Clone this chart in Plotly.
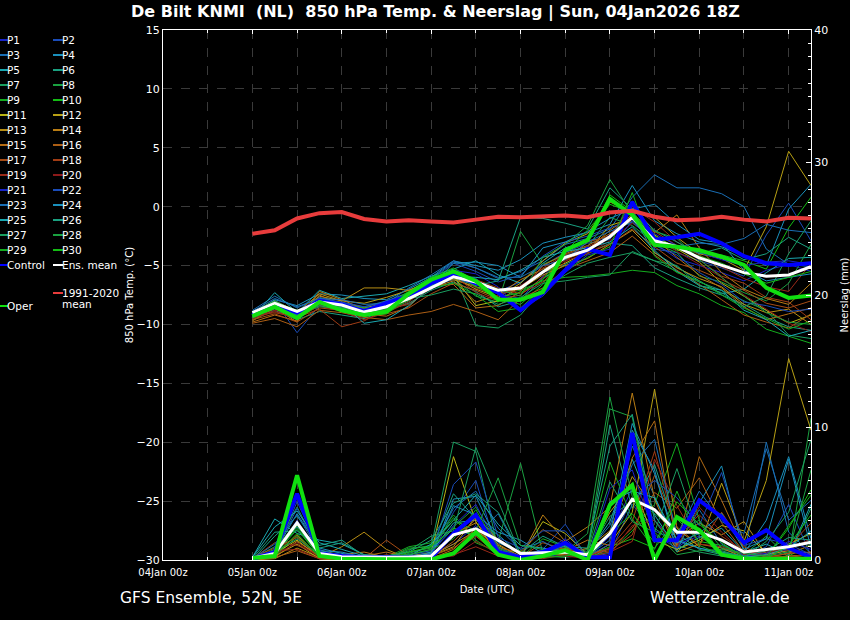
import pandas as pd
import plotly.graph_objects as go

# 6-hourly steps, run 04Jan2026 18Z
times = pd.date_range("2026-01-05 00:00", periods=26, freq="6h")
day_ticks = pd.date_range("2026-01-04", periods=8, freq="D")
day_labels = [d.strftime("%dJan 00z") for d in day_ticks]

clim_temp = [-2.3, -2.0, -1.0, -0.55, -0.45, -1.05, -1.25, -1.15, -1.25, -1.35, -1.1, -0.85, -0.9,
             -0.8, -0.75, -0.9, -0.5, -0.35, -0.85, -1.15, -1.1, -0.85, -1.1, -1.25, -0.95, -1.0]
mean_temp = [-9.0, -8.2, -8.9, -8.1, -8.35, -8.95, -8.5, -7.8, -6.9, -5.95, -6.4, -7.1, -6.9,
             -5.55, -4.3, -3.7, -2.55, -0.9, -2.9, -3.4, -4.35, -4.95, -5.6, -5.9, -5.8, -5.1]
ctrl_temp = [-9.2, -8.3, -9.0, -8.0, -8.3, -8.9, -8.2, -7.6, -6.5, -5.8, -6.5, -7.3, -8.8,
             -7.3, -5.4, -3.6, -4.1, 0.4, -2.8, -2.6, -2.3, -3.1, -4.2, -4.8, -4.95, -4.8]
oper_temp = [-9.3, -8.5, -9.45, -8.1, -8.8, -9.2, -8.9, -7.4, -6.2, -5.5, -6.3, -7.9, -7.9,
             -7.25, -3.7, -2.85, 0.65, -0.7, -3.25, -3.4, -3.7, -4.25, -4.95, -6.9, -7.75, -7.55]

mean_prcp = [0.15, 0.5, 2.8, 0.5, 0.25, 0.2, 0.2, 0.2, 0.3, 1.9, 2.35, 1.5, 0.5,
             0.55, 0.6, 0.4, 2.0, 4.6, 3.8, 2.1, 2.1, 1.5, 0.6, 0.8, 1.0, 1.35]
ctrl_prcp = [0.1, 0.6, 5.0, 0.5, 0.3, 0.2, 0.2, 0.2, 0.15, 2.0, 3.4, 0.6, 0.2,
             0.6, 1.3, 0.2, 0.2, 9.6, 1.5, 1.5, 4.5, 3.25, 1.3, 2.25, 0.9, 0.2]
oper_prcp = [0.15, 0.3, 6.4, 0.3, 0.1, 0.05, 0.05, 0.05, 0.05, 0.5, 2.1, 0.4, 0.0,
             0.3, 0.75, 0.0, 4.15, 5.65, 0.0, 3.25, 2.25, 0.4, 0.1, 0.1, 0.1, 0.1]

# P1..P30, 850 hPa temperature (degC)
member_temp = [
    [-9.3, -8.6, -9.4, -8.3, -8.6, -9.0, -8.7, -7.9, -6.8, -5.7, -6.1, -7.4, -7.8, -5.9, -4.2, -3.6, -2.4, -0.3, -3.1, -4.4, -5.0, -5.6, -6.3, -5.4, -4.9, -5.5],
    [-9.0, -8.0, -10.7, -8.4, -8.1, -8.8, -8.0, -7.5, -6.7, -6.2, -6.6, -7.2, -6.4, -5.0, -3.9, -3.1, -2.8, 0.5, -3.6, -3.9, -4.6, -5.2, -5.9, -2.4, 0.3, -2.9],
    [-8.8, -7.6, -8.6, -7.7, -8.2, -8.5, -8.0, -7.3, -6.1, -4.7, -5.2, -6.1, -5.5, -4.6, -3.2, -2.7, -1.9, 0.8, 2.7, 1.6, 1.6, 1.1, 0.0, -3.6, -4.9, -5.1],
    [-9.1, -7.9, -8.4, -7.4, -7.5, -7.8, -7.9, -7.0, -6.0, -4.6, -5.0, -5.4, -4.5, -3.1, -2.6, -2.2, -1.5, 1.8, -1.2, -2.3, -3.0, -3.4, -4.2, -5.0, -0.2, 1.9],
    [-9.4, -7.3, -9.0, -7.1, -7.8, -7.6, -7.4, -6.7, -5.9, -5.3, -4.6, -5.8, -6.5, -4.8, -3.5, -2.9, -2.6, -0.8, -3.9, -5.1, -6.3, -7.4, -7.0, -5.6, -4.4, -4.3],
    [-9.6, -8.8, -9.6, -8.9, -9.2, -9.5, -8.8, -8.2, -7.1, -6.4, -7.2, -8.5, -8.0, -6.1, -4.9, -4.0, -3.1, -3.3, -5.2, -6.1, -6.9, -7.5, -8.3, -9.4, -10.2, -10.5],
    [-9.2, -8.3, -9.2, -8.5, -8.7, -9.1, -8.5, -7.7, -6.2, -5.6, -10.1, -10.3, -9.2, -7.0, -5.8, -4.8, -4.3, -3.9, -4.6, -5.5, -6.4, -7.1, -8.0, -8.8, -10.9, -11.2],
    [-9.5, -8.7, -9.3, -8.0, -8.9, -9.3, -8.9, -8.0, -6.6, -6.1, -7.6, -8.1, -2.1, -4.9, -4.1, -3.4, -0.9, -1.6, -3.1, -3.9, -5.9, -6.4, -7.3, -8.0, -6.5, -3.2],
    [-9.3, -8.4, -9.1, -8.2, -8.6, -8.9, -8.6, -7.6, -6.4, -5.5, -6.5, -7.4, -7.1, -6.3, -6.0, -5.9, -5.7, -5.4, -5.6, -6.7, -7.4, -8.4, -9.0, -10.4, -11.0, -11.6],
    [-9.1, -8.1, -8.8, -8.0, -8.5, -9.0, -8.3, -7.2, -6.0, -5.2, -6.3, -7.8, -8.3, -6.6, -3.6, -2.7, 1.0, -0.4, -2.9, -3.7, -3.9, -4.1, -4.6, -5.3, -1.8, 0.8],
    [-9.0, -8.0, -8.9, -7.9, -8.3, -8.6, -8.2, -7.4, -6.6, -5.9, -8.4, -8.0, -6.8, -5.6, -4.8, -3.8, -1.6, -1.0, -2.4, -3.6, -4.7, -6.5, -7.6, -8.8, -9.9, -9.2],
    [-9.4, -8.2, -9.1, -7.6, -8.0, -8.2, -7.7, -7.1, -6.3, -6.0, -7.0, -7.7, -6.5, -4.6, -3.1, -2.3, 0.4, -0.5, -0.9, -2.6, -4.0, -4.4, -5.4, -1.7, 4.7, 1.8],
    [-9.2, -8.1, -9.0, -7.4, -8.0, -6.9, -6.9, -7.1, -6.4, -6.2, -6.8, -7.3, -7.0, -5.8, -5.0, -4.4, -3.2, -2.0, -3.9, -5.2, -6.1, -6.8, -8.3, -9.0, -8.7, -10.0],
    [-9.7, -8.6, -9.8, -7.2, -7.9, -8.7, -8.4, -7.8, -6.9, -6.3, -8.1, -7.5, -6.2, -5.3, -4.5, -3.7, -2.0, -0.7, -2.2, -0.7, -3.5, -5.6, -7.0, -7.8, -8.3, -6.5],
    [-9.8, -9.2, -9.7, -7.5, -8.4, -9.1, -9.3, -8.5, -6.7, -6.6, -8.6, -8.4, -7.2, -5.0, -4.0, -3.3, -2.3, -1.2, -2.7, -4.3, -5.8, -6.9, -8.5, -9.6, -9.1, -8.6],
    [-9.9, -9.5, -10.2, -8.8, -9.0, -9.4, -9.6, -9.2, -8.9, -8.3, -8.9, -9.6, -7.8, -6.9, -5.3, -4.6, -3.9, -2.5, -4.1, -5.4, -6.6, -7.9, -9.2, -9.8, -10.3, -9.1],
    [-9.6, -9.1, -9.8, -8.6, -8.8, -9.3, -9.1, -8.6, -7.4, -6.5, -7.1, -7.9, -7.5, -6.0, -4.4, -3.9, -3.2, -1.9, -3.4, -4.8, -5.4, -6.2, -7.1, -8.2, -8.6, -8.0],
    [-9.3, -9.0, -9.4, -8.7, -10.2, -9.7, -8.7, -8.3, -6.9, -6.0, -6.2, -6.9, -7.4, -6.4, -4.7, -3.0, -2.5, 0.1, -2.1, -3.3, -4.5, -5.9, -6.5, -7.7, -8.1, -9.6],
    [-9.5, -8.9, -9.5, -8.4, -8.9, -9.6, -9.0, -8.1, -6.5, -5.8, -7.3, -8.0, -6.9, -5.2, -4.1, -3.4, -2.6, -0.1, -1.3, -3.0, -4.1, -5.1, -6.1, -6.8, -7.2, -4.8],
    [-9.4, -8.8, -9.2, -8.3, -8.7, -9.2, -8.9, -7.9, -6.3, -5.6, -6.9, -7.6, -6.7, -5.5, -4.6, -4.0, -2.9, -1.4, -2.6, -3.8, -4.9, -6.0, -7.5, -8.7, -9.9, -10.6],
    [-9.2, -8.3, -9.3, -8.1, -8.4, -8.7, -8.4, -7.6, -6.6, -5.4, -5.7, -6.8, -8.7, -7.6, -5.6, -4.1, -3.6, -1.2, -2.3, -3.3, -3.9, -4.5, -5.0, -4.7, -4.6, -4.9],
    [-9.0, -8.4, -9.0, -7.8, -8.1, -8.5, -8.1, -7.4, -6.2, -4.8, -5.5, -6.4, -5.8, -4.2, -3.0, -2.5, -1.8, -1.1, -3.3, -4.1, -5.6, -6.6, -8.1, -8.4, -8.9, -8.7],
    [-8.9, -7.8, -8.5, -7.8, -7.9, -8.3, -8.2, -6.9, -5.8, -4.6, -5.2, -6.0, -6.0, -5.0, -4.5, -3.0, -2.1, -1.3, -3.0, -3.4, -3.1, -3.2, -2.7, -1.5, -2.0, -2.2],
    [-9.3, -8.5, -9.2, -8.0, -8.5, -9.0, -8.6, -7.5, -6.7, -4.8, -4.7, -5.0, -6.0, -3.5, -3.0, -2.1, -1.0, -0.2, 0.2, -1.5, -2.8, -3.1, -5.4, -6.3, -6.0, -5.7],
    [-9.1, -8.0, -9.0, -7.9, -8.2, -9.9, -9.6, -8.4, -6.8, -5.9, -6.0, -6.2, -5.4, -4.3, -3.8, -3.5, -3.0, -1.7, -3.7, -5.5, -6.7, -7.1, -8.8, -9.6, -11.0, -10.5],
    [-9.2, -8.2, -9.2, -8.2, -8.6, -8.8, -8.3, -7.7, -6.7, -6.0, -6.7, -6.3, -0.9, -1.0, -1.4, -1.9, 1.6, -0.2, -2.0, -3.0, -4.0, -3.5, -4.5, -4.0, -2.6, -3.6],
    [-9.4, -8.6, -9.2, -8.4, -8.8, -9.0, -8.6, -7.8, -7.5, -7.0, -7.4, -8.3, -7.7, -6.5, -6.3, -6.0, -5.8, -3.8, -4.6, -5.0, -6.7, -7.3, -8.5, -7.6, -4.0, -1.2],
    [-9.0, -8.0, -9.0, -7.9, -8.3, -8.6, -8.4, -7.3, -6.5, -5.8, -6.4, -7.0, -7.6, -4.3, -3.2, -1.6, 2.3, -0.6, -2.1, -2.7, -4.5, -6.0, -7.6, -9.0, -9.8, -10.0],
    [-9.1, -8.2, -9.1, -8.1, -8.5, -9.1, -8.7, -7.9, -6.9, -6.5, -7.5, -8.9, -8.6, -6.9, -5.4, -4.3, -3.4, 1.2, -4.2, -5.6, -6.3, -7.5, -8.6, -9.5, -10.4, -9.7],
    [-9.3, -8.5, -9.4, -8.1, -8.9, -9.3, -9.1, -7.8, -6.3, -5.7, -6.8, -7.7, -7.3, -6.2, -3.8, -2.0, 0.2, -0.5, -2.5, -3.5, -4.2, -4.8, -5.7, -6.5, -6.0, -5.5],
]

# P1..P30, 6-hourly precipitation (mm)
member_prcp = [
    [0, 0.5, 3.0, 0.3, 0.1, 0, 0, 0.2, 0.4, 1.2, 2.6, 0.8, 0.1, 0.2, 0.5, 0.1, 1.8, 5.4, 3.0, 1.2, 1.8, 0.9, 0.4, 0.3, 0.8, 0.5],
    [0, 0.3, 4.4, 0.8, 0.2, 0.1, 0, 0.1, 0.3, 3.6, 6.0, 0.5, 0.3, 0.8, 2.7, 0.2, 0.5, 4.2, 2.2, 1.4, 0.9, 0.6, 0.2, 1.0, 4.2, 0.3],
    [0.1, 0.8, 2.5, 0.6, 0.3, 0, 0.1, 0.3, 0.6, 2.4, 1.8, 3.5, 0.3, 0.7, 1.0, 0.3, 1.5, 8.6, 4.8, 1.0, 3.8, 1.2, 0.3, 8.9, 2.1, 0.5],
    [0, 0.6, 3.5, 0.9, 0.5, 0.2, 0.1, 0.1, 0.2, 4.6, 4.8, 1.3, 0.6, 0.5, 1.1, 0.1, 0.9, 9.8, 6.8, 0.7, 4.3, 7.1, 0.5, 3.0, 7.8, 1.6],
    [0.2, 3.1, 2.0, 1.5, 1.2, 0.4, 0.2, 0.1, 0.6, 2.8, 3.0, 1.9, 0.4, 0.3, 0.9, 0.5, 2.9, 7.6, 3.4, 0.8, 1.7, 2.4, 0.6, 1.2, 0.4, 4.2],
    [0, 1.8, 3.3, 1.1, 1.5, 0.3, 0.1, 0.4, 0.8, 5.0, 3.1, 1.0, 0.2, 0.4, 0.5, 0.6, 10.2, 3.9, 7.2, 2.0, 0.8, 0.4, 0.2, 0.6, 0.9, 0.2],
    [0.1, 1.0, 4.0, 0.7, 0.4, 0.2, 0, 0.5, 1.0, 8.9, 8.2, 0.8, 0.1, 0.3, 0.2, 0.4, 3.3, 4.4, 2.4, 1.1, 0.6, 0.3, 0.1, 0.2, 0.3, 3.9],
    [0, 0.4, 2.3, 0.3, 0.1, 0.1, 0.3, 0.6, 0.9, 2.5, 4.0, 1.4, 7.3, 0.5, 0.3, 0.8, 11.4, 10.8, 2.1, 0.4, 0.7, 0.8, 0.4, 1.8, 0.2, 10.7],
    [0, 0.2, 1.8, 0.1, 0, 0.1, 0.2, 1.0, 1.3, 3.4, 1.5, 0.4, 0.2, 1.6, 1.0, 0.3, 0.6, 2.2, 4.2, 8.8, 3.0, 0.3, 0.2, 0.1, 0.3, 1.2],
    [0.1, 0.3, 2.6, 0.2, 0.1, 0, 0.1, 0.8, 1.1, 3.2, 1.3, 0.6, 0.7, 0.2, 0.8, 0.3, 1.0, 1.6, 0.9, 3.1, 1.4, 1.1, 0.3, 0.2, 2.4, 5.3],
    [0, 0.5, 1.5, 0.2, 0, 0.1, 0, 0.3, 0.5, 7.8, 2.9, 0.3, 0.2, 2.9, 2.0, 0.4, 3.6, 5.8, 1.5, 0.8, 1.5, 2.6, 2.2, 0.5, 1.2, 2.0],
    [0, 0.3, 1.2, 0.1, 0, 0.2, 0.1, 0.2, 0.3, 1.0, 3.3, 1.5, 0.4, 0.6, 0.9, 0.2, 1.2, 3.6, 12.9, 2.4, 1.0, 5.8, 1.4, 6.0, 15.2, 9.8],
    [0, 0.1, 0.9, 0.2, 1.0, 2.1, 0.8, 0.1, 0.3, 1.2, 2.2, 1.1, 0.3, 0.5, 0.4, 0.9, 2.2, 6.3, 3.8, 1.6, 2.8, 1.9, 2.9, 0.4, 0.7, 0.3],
    [0.1, 0.2, 1.4, 0.3, 0.4, 0.6, 0.2, 0.1, 0.4, 2.0, 2.8, 1.2, 0.2, 3.4, 1.4, 2.5, 4.0, 12.6, 4.6, 0.6, 1.2, 0.9, 0.2, 0.1, 0.3, 0.4],
    [0, 0.4, 1.9, 0.1, 0, 0.3, 0.6, 0.2, 0.1, 0.8, 2.4, 0.7, 0.1, 0.3, 0.7, 1.5, 1.1, 7.7, 10.5, 1.0, 7.8, 4.5, 0.8, 0.2, 0.5, 0.6],
    [0, 0.2, 0.7, 0.1, 0.1, 0, 0.2, 0.1, 0.2, 1.4, 3.1, 0.9, 0.6, 2.3, 1.3, 0.5, 0.8, 2.4, 5.1, 3.9, 6.2, 2.8, 0.6, 0.3, 0.2, 0.4],
    [0.2, 0.9, 1.7, 0.2, 0.1, 0.1, 1.5, 0.3, 0.3, 0.9, 2.2, 0.6, 0.2, 1.3, 0.8, 0.4, 0.7, 1.9, 6.4, 2.5, 1.1, 3.6, 1.0, 0.2, 0.5, 1.1],
    [0.1, 1.3, 1.1, 0.4, 0.2, 0, 0.4, 0.1, 0.2, 0.6, 1.8, 0.4, 0.3, 0.5, 0.9, 0.3, 0.9, 2.9, 8.2, 1.9, 3.4, 1.8, 0.7, 0.4, 1.0, 2.8],
    [0.1, 0.7, 0.8, 0.1, 0.1, 0.1, 0.1, 0.2, 0.1, 0.4, 1.0, 0.3, 0.2, 0.1, 0.4, 0.2, 0.6, 1.4, 7.6, 4.1, 1.2, 1.0, 0.4, 0.3, 0.2, 0.5],
    [0, 0.4, 1.3, 0.2, 0, 0.1, 0, 0.1, 0.2, 0.3, 1.4, 0.5, 0.1, 0.2, 0.3, 0.1, 0.4, 2.6, 3.0, 1.0, 4.0, 2.1, 0.5, 0.6, 0.8, 1.6],
    [0, 0.3, 2.9, 0.4, 0.2, 0.1, 0, 0.2, 0.5, 2.6, 4.2, 0.9, 0.3, 0.6, 1.6, 0.2, 5.4, 6.8, 1.9, 0.9, 2.2, 1.5, 0.3, 0.5, 1.4, 0.8],
    [0, 0.5, 3.9, 0.5, 0.3, 0, 0.1, 0.3, 0.4, 5.7, 7.4, 1.7, 0.9, 2.2, 2.2, 0.3, 1.2, 4.6, 6.0, 4.7, 2.6, 6.6, 1.1, 1.6, 1.2, 0.4],
    [0.1, 1.2, 3.4, 0.6, 0.4, 0.1, 0.2, 0.4, 0.7, 3.9, 5.2, 2.4, 0.8, 1.4, 0.5, 0.6, 2.6, 7.2, 9.1, 1.9, 5.2, 2.9, 2.0, 8.4, 3.0, 4.5],
    [0, 0.7, 2.7, 0.7, 0.6, 0.2, 0.1, 0.2, 0.5, 4.1, 3.4, 2.1, 1.5, 0.5, 0.7, 0.4, 1.9, 10.3, 6.5, 1.3, 2.0, 3.5, 0.8, 1.6, 7.6, 0.9],
    [0.2, 2.5, 3.7, 1.3, 0.8, 0.3, 0.2, 0.3, 1.2, 3.0, 4.9, 2.7, 1.1, 0.9, 0.6, 0.3, 4.4, 5.2, 4.7, 1.5, 0.9, 0.5, 0.2, 0.4, 0.9, 2.2],
    [0.1, 2.1, 2.2, 0.9, 1.3, 0.4, 0.3, 0.6, 1.5, 4.3, 5.0, 3.6, 0.5, 1.8, 1.0, 0.9, 8.6, 11.0, 3.0, 0.6, 2.3, 0.6, 0.3, 0.7, 1.7, 1.5],
    [0, 0.6, 1.6, 0.4, 0.2, 0.1, 0.1, 0.7, 1.8, 2.2, 8.5, 4.5, 0.4, 0.3, 1.2, 0.5, 5.9, 2.9, 2.1, 6.9, 1.8, 0.7, 0.2, 1.4, 3.6, 9.1],
    [0, 0.8, 2.9, 0.2, 0.3, 0.2, 0.1, 0.9, 1.0, 3.0, 2.2, 6.2, 1.1, 0.8, 0.6, 2.0, 12.3, 4.8, 3.5, 2.2, 3.0, 0.9, 0.5, 0.3, 0.6, 6.8],
    [0.1, 0.5, 2.4, 0.3, 0.1, 0, 0.2, 0.4, 0.8, 1.6, 3.8, 0.9, 0.2, 0.2, 0.3, 0.6, 7.4, 3.1, 0.8, 5.2, 1.1, 0.4, 0.1, 0.2, 2.6, 4.9],
    [0, 0.3, 2.0, 0.2, 0.1, 0.1, 0, 0.6, 1.0, 2.4, 1.9, 0.7, 0.1, 0.4, 0.5, 0.1, 2.0, 3.5, 1.3, 4.4, 2.7, 1.3, 0.2, 0.1, 1.1, 3.4],
]

member_names = [f"P{i}" for i in range(1, 31)]
palette = ["#1a24c8", "#1a4cb8", "#1a6eb4", "#1a90bc", "#1aa8b0", "#1aa080", "#1a9e60", "#1aa040",
           "#14ac1e", "#14bc14", "#b8b414", "#b8a014", "#b88e14", "#b87c14", "#b46c14", "#ac5e14",
           "#a64c14", "#a03c14", "#9a2a18", "#8c1a1a"]

FONT = "DejaVu Sans"
L, R, T, B = 163, 811, 30, 560
W, H = R - L, B - T


def fx(px):
    return (px - L) / W


def fy(py):
    return (B - py) / H


fig = go.Figure()

for i, name in enumerate(member_names):
    col = palette[i % 20]
    fig.add_trace(go.Scatter(x=times, y=member_temp[i], mode="lines", name=name,
                             line=dict(color=col, width=1)))
    fig.add_trace(go.Scatter(x=times, y=member_prcp[i], mode="lines", name=name, yaxis="y2",
                             line=dict(color=col, width=1)))

fig.add_trace(go.Scatter(x=times, y=ctrl_prcp, mode="lines", yaxis="y2", line=dict(color="#0000ff", width=4)))
fig.add_trace(go.Scatter(x=times, y=mean_prcp, mode="lines", yaxis="y2", line=dict(color="#ffffff", width=3)))
fig.add_trace(go.Scatter(x=times, y=oper_prcp, mode="lines", yaxis="y2", line=dict(color="#10e010", width=4)))
fig.add_trace(go.Scatter(x=times, y=ctrl_temp, mode="lines", line=dict(color="#0000ff", width=4)))
fig.add_trace(go.Scatter(x=times, y=mean_temp, mode="lines", line=dict(color="#ffffff", width=3)))
fig.add_trace(go.Scatter(x=times, y=oper_temp, mode="lines", line=dict(color="#10e010", width=4)))
fig.add_trace(go.Scatter(x=times, y=clim_temp, mode="lines", line=dict(color="#e83c3c", width=4)))

grid = dict(gridcolor="#3a3a3a", griddash="dash", gridwidth=1)

fig.update_layout(
    width=850, height=620,
    margin=dict(l=L, r=850 - R, t=T, b=620 - B),
    paper_bgcolor="black", plot_bgcolor="black",
    showlegend=False,
    font=dict(family=FONT, color="white", size=11),
    xaxis=dict(
        range=["2026-01-04 00:00", "2026-01-11 06:00"], automargin=False,
        tickvals=day_ticks, ticktext=day_labels,
        ticks="inside", ticklen=4, tickcolor="white",
        showline=True, linecolor="white", linewidth=1, mirror="ticks",
        showgrid=True, **grid,
        minor=dict(dtick=12 * 3600 * 1000, tick0="2026-01-04", showgrid=True, ticks="inside",
                   ticklen=3, tickcolor="white", **grid),
        tickfont=dict(size=10), ticklabelstandoff=3,
        title=dict(text="Date (UTC)", font=dict(size=10), standoff=8),
        zeroline=False,
    ),
    yaxis=dict(
        range=[-30, 15], tick0=-30, dtick=5, automargin=False,
        ticks="", showline=True, linecolor="white", linewidth=1,
        showgrid=True, **grid, zeroline=False,
        tickfont=dict(size=11),
        title=dict(text="850 hPa Temp. (°C)", font=dict(size=10), standoff=1),
    ),
    yaxis2=dict(
        range=[0, 40], tick0=0, dtick=10, overlaying="y", side="right", automargin=False,
        ticks="inside", ticklen=5, tickcolor="white",
        minor=dict(dtick=1, ticks="inside", ticklen=3, tickcolor="white", showgrid=False),
        showline=True, linecolor="white", linewidth=1,
        showgrid=False, zeroline=False,
        tickfont=dict(size=11),
        title=dict(text="Neerslag (mm)", font=dict(size=10), standoff=14),
    ),
)

# legend drawn by hand in two columns, like the original
shapes, notes = [], []


def legend_item(text, color, lx0, lx1, tx, py):
    shapes.append(dict(type="line", xref="paper", yref="paper", x0=fx(lx0), x1=fx(lx1),
                       y0=fy(py), y1=fy(py), line=dict(color=color, width=2)))
    notes.append(dict(text=text, xref="paper", yref="paper", x=fx(tx), y=fy(py),
                      xanchor="left", yanchor="middle", showarrow=False,
                      font=dict(size=10.5, color="white"), borderpad=0))


for i, name in enumerate(member_names):
    row, colno = divmod(i, 2)
    py = 40 + 15 * row
    if colno == 0:
        legend_item(name, palette[i % 20], 0, 8, 6, py)
    else:
        legend_item(name, palette[i % 20], 53, 63, 61, py)

legend_item("Control", "#0000ff", 0, 8, 6, 265)
legend_item("Ens. mean", "#ffffff", 53, 63, 61, 265)
legend_item("1991-2020", "#e83c3c", 53, 63, 61, 293)
notes.append(dict(text="mean", xref="paper", yref="paper", x=fx(61), y=fy(304), xanchor="left",
                  yanchor="middle", showarrow=False, font=dict(size=10.5, color="white"), borderpad=0))
legend_item("Oper", "#10e010", 0, 8, 6, 306)

notes.append(dict(text="De Bilt KNMI\u00a0\u00a0(NL)\u00a0\u00a0850 hPa Temp. &amp; Neerslag | Sun, 04Jan2026 18Z",
                  xref="paper", yref="paper", x=fx(435), y=fy(12), xanchor="center", yanchor="middle",
                  showarrow=False, font=dict(size=16, color="white", family=FONT, weight="bold")))
notes.append(dict(text="GFS Ensemble, 52N, 5E", xref="paper", yref="paper", x=fx(118), y=fy(598),
                  xanchor="left", yanchor="middle", showarrow=False, font=dict(size=15.5, color="white")))
notes.append(dict(text="Wetterzentrale.de", xref="paper", yref="paper", x=fx(648), y=fy(598),
                  xanchor="left", yanchor="middle", showarrow=False, font=dict(size=15.5, color="white")))

fig.update_layout(shapes=shapes, annotations=notes)

# the page's default body margin would push the 850x620 figure off the window
fig.write_html("out.html", config={"displayModeBar": False},
               post_script="document.body.style.margin='0';document.body.style.background='black';")
